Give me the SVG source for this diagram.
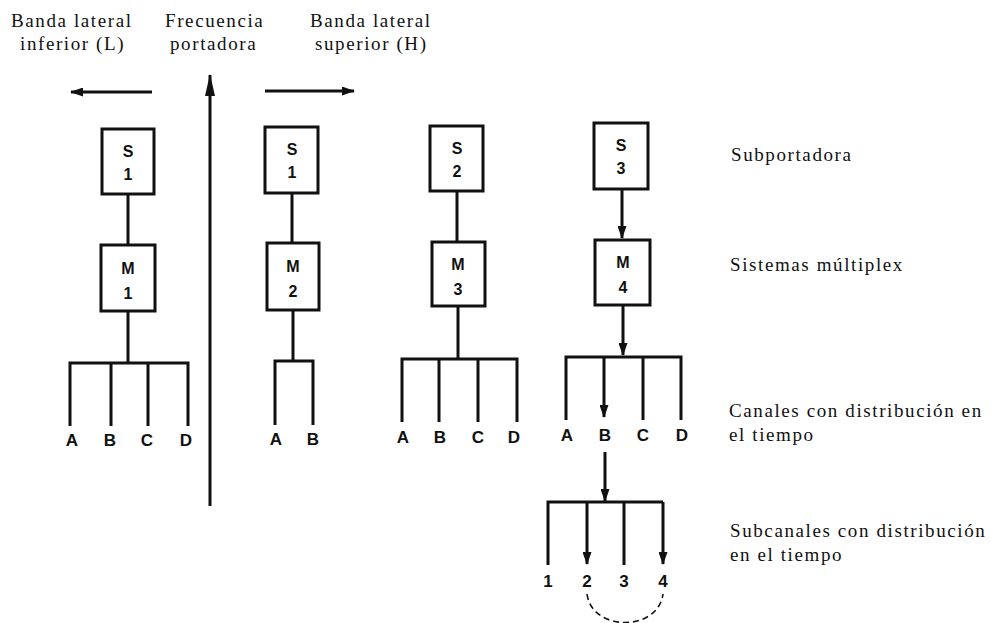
<svg xmlns="http://www.w3.org/2000/svg" width="991" height="623" viewBox="0 0 991 623">
<style>
.lbl{font-family:"Liberation Serif","Times New Roman",serif;font-size:19px;letter-spacing:1.6px;fill:#111}
.bx{fill:#fff;stroke:#111;stroke-width:3}
.bt{font-family:"Liberation Sans",Arial,sans-serif;font-weight:bold;font-size:16px;fill:#111;text-anchor:middle}
.ch{font-family:"Liberation Sans",Arial,sans-serif;font-weight:bold;font-size:17px;fill:#111;text-anchor:middle}
.ln{stroke:#111;stroke-width:3;fill:none}
.ar{stroke:#111;stroke-width:3;fill:none;marker-end:url(#head)}
.dash{stroke:#111;stroke-width:1.6;fill:none;stroke-dasharray:6 4}
</style>
<defs>
<marker id="head" markerUnits="userSpaceOnUse" markerWidth="13" markerHeight="9" viewBox="0 0 13 9" refX="12" refY="4.5" orient="auto">
<path d="M0,0 L13,4.5 L0,9 Z" fill="#111"/>
</marker>
<marker id="headLong" markerUnits="userSpaceOnUse" markerWidth="22" markerHeight="10" viewBox="0 0 22 10" refX="21" refY="5" orient="auto">
<path d="M0,0 L22,5 L0,10 Z" fill="#111"/>
</marker>
</defs>
<rect width="991" height="623" fill="#fff"/>

<g id="headers">
<text class="lbl" x="11" y="27">Banda lateral</text>
<text class="lbl" x="20" y="50">inferior (L)</text>
<text class="lbl" x="165" y="27">Frecuencia</text>
<text class="lbl" x="170" y="50">portadora</text>
<text class="lbl" x="310" y="27">Banda lateral</text>
<text class="lbl" x="315" y="50">superior (H)</text>
</g>

<g id="row-labels">
<text class="lbl" x="731" y="161">Subportadora</text>
<text class="lbl" x="730" y="271">Sistemas múltiplex</text>
<text class="lbl" x="729" y="417">Canales con distribución en</text>
<text class="lbl" x="729" y="441">el tiempo</text>
<text class="lbl" x="730" y="537">Subcanales con distribución</text>
<text class="lbl" x="730" y="561">en el tiempo</text>
</g>

<g id="connectors">
<line class="ar" x1="152" y1="92" x2="71" y2="92"/>
<line class="ar" x1="265" y1="91" x2="354" y2="91"/>
<line class="ln" x1="210" y1="506" x2="210" y2="75" style="marker-end:url(#headLong)"/>

<line class="ln" x1="128" y1="194" x2="128" y2="245"/>
<line class="ln" x1="128" y1="311" x2="128" y2="363"/>
<path class="ln" d="M70,426 V363 H188 V426 M111,363 V426 M148,363 V426"/>

<line class="ln" x1="292" y1="193" x2="292" y2="243"/>
<line class="ln" x1="293" y1="310" x2="293" y2="361"/>
<path class="ln" d="M275,425 V361 H313 V425"/>

<line class="ln" x1="457" y1="191" x2="457" y2="242"/>
<line class="ln" x1="458" y1="306" x2="458" y2="359"/>
<path class="ln" d="M402,422 V359 H517 V422 M439,359 V422 M478,359 V422"/>

<line class="ar" x1="622" y1="189" x2="622" y2="238"/>
<line class="ar" x1="623" y1="305" x2="623" y2="355"/>
<path class="ln" d="M566,420 V357 H681 V420 M643,357 V420"/>
<line class="ar" x1="604" y1="357" x2="604" y2="417"/>

<line class="ar" x1="605" y1="452" x2="605" y2="501"/>
<path class="ln" d="M548,565 V502 H663 M624,502 V565"/>
<line class="ar" x1="587" y1="502" x2="587" y2="564"/>
<line class="ar" x1="663" y1="502" x2="663" y2="564"/>
<path class="dash" d="M587,594 C592,632 658,632 663,594"/>
</g>

<g id="S1L"><rect class="bx" x="102" y="129" width="52" height="65"/><text class="bt" x="128" y="157">S</text><text class="bt" x="128" y="180">1</text></g>
<g id="M1"><rect class="bx" x="101" y="245" width="54" height="66"/><text class="bt" x="128" y="274">M</text><text class="bt" x="128" y="299">1</text></g>
<g id="S1R"><rect class="bx" x="265" y="127" width="53" height="66"/><text class="bt" x="292" y="155">S</text><text class="bt" x="292" y="178">1</text></g>
<g id="M2"><rect class="bx" x="267" y="243" width="52" height="67"/><text class="bt" x="293" y="272">M</text><text class="bt" x="293" y="297">2</text></g>
<g id="S2"><rect class="bx" x="430" y="126" width="53" height="65"/><text class="bt" x="457" y="154">S</text><text class="bt" x="457" y="177">2</text></g>
<g id="M3"><rect class="bx" x="432" y="242" width="53" height="64"/><text class="bt" x="458" y="270">M</text><text class="bt" x="458" y="295">3</text></g>
<g id="S3"><rect class="bx" x="594" y="123" width="54" height="66"/><text class="bt" x="621" y="151">S</text><text class="bt" x="621" y="174">3</text></g>
<g id="M4"><rect class="bx" x="595" y="240" width="55" height="65"/><text class="bt" x="623" y="268">M</text><text class="bt" x="623" y="293">4</text></g>

<g id="channels1"><text class="ch" x="72" y="446">A</text><text class="ch" x="110" y="446">B</text><text class="ch" x="147" y="446">C</text><text class="ch" x="186" y="446">D</text></g>
<g id="channels2"><text class="ch" x="276" y="445">A</text><text class="ch" x="313" y="445">B</text></g>
<g id="channels3"><text class="ch" x="403" y="443">A</text><text class="ch" x="440" y="443">B</text><text class="ch" x="478" y="443">C</text><text class="ch" x="514" y="443">D</text></g>
<g id="channels4"><text class="ch" x="567" y="441">A</text><text class="ch" x="605" y="441">B</text><text class="ch" x="643" y="441">C</text><text class="ch" x="682" y="441">D</text></g>
<g id="subchannels"><text class="ch" x="548" y="587">1</text><text class="ch" x="587" y="587">2</text><text class="ch" x="624" y="587">3</text><text class="ch" x="663" y="587">4</text></g>
</svg>
